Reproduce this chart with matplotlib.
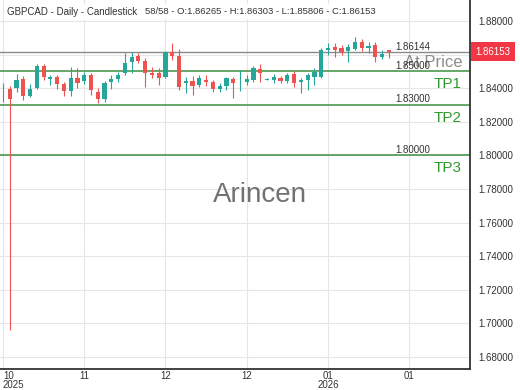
import numpy as np
import matplotlib
matplotlib.use("Agg")
import matplotlib.pyplot as plt

plt.rcParams['font.family'] = ['Liberation Sans', 'DejaVu Sans']

# daily candles, GBPCAD
opens = [1.8395, 1.8395, 1.8401, 1.8455, 1.8354, 1.8401, 1.8532, 1.8455, 1.8467, 1.8425,
         1.8383, 1.8461, 1.8443, 1.8479, 1.8378, 1.8336, 1.8437, 1.8455, 1.8490, 1.8556,
         1.8592, 1.8562, 1.8490, 1.8490, 1.8467, 1.8616, 1.8592, 1.8431, 1.8443, 1.8419,
         1.8449, 1.8437, 1.8395, 1.8413, 1.8455, 1.8428, 1.8437, 1.8449, 1.8514, 1.8451,
         1.8449, 1.8461, 1.8443, 1.8485, 1.8437, 1.8449, 1.8467, 1.8467, 1.8627, 1.8645,
         1.8639, 1.8621, 1.8633, 1.8675, 1.8639, 1.8657, 1.8586, 1.86265]
highs = [1.8431, 1.8413, 1.8485, 1.8473, 1.8425, 1.8544, 1.8544, 1.8479, 1.8479, 1.8437,
         1.8526, 1.8520, 1.8497, 1.8490, 1.8401, 1.8443, 1.8479, 1.8497, 1.8610, 1.8616,
         1.8610, 1.8580, 1.8526, 1.8520, 1.8622, 1.8669, 1.8633, 1.8467, 1.8473, 1.8479,
         1.8479, 1.8449, 1.8431, 1.8467, 1.8467, 1.8508, 1.8479, 1.8532, 1.8544, 1.8461,
         1.8485, 1.8473, 1.8490, 1.8502, 1.8461, 1.8490, 1.8520, 1.8639, 1.8669, 1.8669,
         1.8657, 1.8663, 1.8705, 1.8693, 1.8675, 1.8675, 1.8627, 1.86303]
lows = [1.8318, 1.6961, 1.8378, 1.8330, 1.8348, 1.8395, 1.8449, 1.8419, 1.8395, 1.8354,
        1.8354, 1.8401, 1.8425, 1.8360, 1.8312, 1.8318, 1.8395, 1.8437, 1.8479, 1.8490,
        1.8550, 1.8407, 1.8461, 1.8419, 1.8461, 1.8568, 1.8390, 1.8372, 1.8360, 1.8407,
        1.8413, 1.8378, 1.8378, 1.8390, 1.8342, 1.8383, 1.8419, 1.8437, 1.8437, 1.8449,
        1.8431, 1.8431, 1.8431, 1.8407, 1.8372, 1.8390, 1.8419, 1.8461, 1.8598, 1.8586,
        1.8598, 1.8556, 1.8627, 1.8622, 1.8610, 1.8556, 1.8574, 1.85806]
closes = [1.8398, 1.8336, 1.8449, 1.8354, 1.8395, 1.8532, 1.8467, 1.8467, 1.8425, 1.8383,
          1.8461, 1.8431, 1.8479, 1.8390, 1.8336, 1.8431, 1.8455, 1.8479, 1.8550, 1.8586,
          1.8562, 1.8490, 1.8479, 1.8461, 1.8616, 1.8592, 1.8407, 1.8443, 1.8413, 1.8461,
          1.8437, 1.8395, 1.8413, 1.8461, 1.8431, 1.8431, 1.8455, 1.8520, 1.8490, 1.8455,
          1.8467, 1.8443, 1.8479, 1.8431, 1.8449, 1.8479, 1.8497, 1.8627, 1.8639, 1.8627,
          1.8616, 1.8645, 1.8675, 1.8639, 1.8651, 1.8586, 1.8604, 1.86153]

tick_pos = [0, 12, 24, 36, 48, 60]
tick_labels = ['10\n2025', '11', '12', '12', '01\n2026', '01']
price_ticks = [1.68, 1.70, 1.72, 1.74, 1.76, 1.78, 1.80, 1.82, 1.84, 1.86, 1.88]

ref_level = 1.86144
entry_level = 1.85
tp_levels = [1.85, 1.83, 1.80]
tp_names = ['TP1', 'TP2', 'TP3']
last_close = 1.86153

up_col = '#26a69a'
dn_col = '#ef5350'
line_green = '#3f8f3f'

fig = plt.figure(figsize=(5.2, 3.9), dpi=100)
ax = fig.add_axes([0, 21 / 390, 470 / 520, 369 / 390])

idx = np.arange(len(opens))
o = np.array(opens)
c = np.array(closes)
h = np.array(highs)
l = np.array(lows)
cols = np.where(c >= o, up_col, dn_col)

ax.vlines(idx, l, h, colors=cols, linewidth=0.8, zorder=3)
body_lo = np.minimum(o, c)
body_h = np.maximum(np.abs(c - o), 0.0003)
ax.bar(idx, body_h, bottom=body_lo, width=0.62, color=cols, linewidth=0, zorder=4)

# horizontal levels
ax.axhline(ref_level, color='#8a8a8a', linewidth=1.0, zorder=2)
ax.text(58, ref_level + 0.0004, '%.5f' % ref_level, fontsize=7, color='#333333',
        va='bottom', ha='left', zorder=6)
for lvl, name in zip(tp_levels, tp_names):
    ax.axhline(lvl, color=line_green, linewidth=1.1, zorder=2)
    ax.text(58, lvl + 0.0005, '%.5f' % lvl, fontsize=7, color='#333333',
            va='bottom', ha='left', zorder=6)
    ax.text(0.983, lvl - 0.0035, name, transform=ax.get_yaxis_transform(),
            fontsize=11, color='#2e9a2e', va='top', ha='right', zorder=6)
ax.text(0.983, entry_level + 0.0010, 'At Price', transform=ax.get_yaxis_transform(),
        fontsize=12, color='#8c8c8c', va='bottom', ha='right', zorder=5)

# watermark
ax.text(0.553, 0.472, 'Arincen', transform=ax.transAxes, fontsize=20,
        color='#727272', ha='center', va='center', zorder=1)

ax.set_xlim(-0.443, 68.98)
ax.set_ylim(1.67286, 1.8925)

ax.yaxis.tick_right()
ax.set_yticks(price_ticks)
ax.set_yticklabels(['%.5f' % p for p in price_ticks])
ax.set_xticks(tick_pos)
ax.set_xticklabels(tick_labels, linespacing=0.9)
ax.tick_params(axis='both', length=0, labelsize=7, colors='#333333')
ax.tick_params(axis='y', pad=6)
ax.tick_params(axis='x', pad=1.5)
ax.get_xticklabels()[0].set_horizontalalignment('left')

ax.grid(True, color='#e6e6e6', linewidth=0.8, zorder=0)
ax.set_axisbelow(True)
for s in ['left', 'top']:
    ax.spines[s].set_visible(False)
for s in ['right', 'bottom']:
    ax.spines[s].set_color('#333333')
    ax.spines[s].set_linewidth(1.3)

# last price tag
ax.text(1.011, last_close + 0.0003, '%.5f' % last_close, transform=ax.get_yaxis_transform(),
        fontsize=7, color='white', ha='left', va='center', zorder=10, clip_on=False,
        bbox=dict(boxstyle='square,pad=0.45', facecolor='#f23645', edgecolor='none'))

# header
ax.text(0.015, 0.968, 'GBPCAD - Daily - Candlestick', transform=ax.transAxes,
        fontsize=7, color='#333333', ha='left', va='center', zorder=8,
        bbox=dict(boxstyle='square,pad=0.3', facecolor='white', edgecolor='none'))
ax.text(0.309, 0.968, '58/58 - O:%.5f - H:%.5f - L:%.5f - C:%.5f'
        % (opens[-1], highs[-1], lows[-1], closes[-1]), transform=ax.transAxes,
        fontsize=6.8, color='#333333', ha='left', va='center', zorder=8,
        bbox=dict(boxstyle='square,pad=0.3', facecolor='white', edgecolor='none'))

fig.savefig('out.png', dpi=100)
